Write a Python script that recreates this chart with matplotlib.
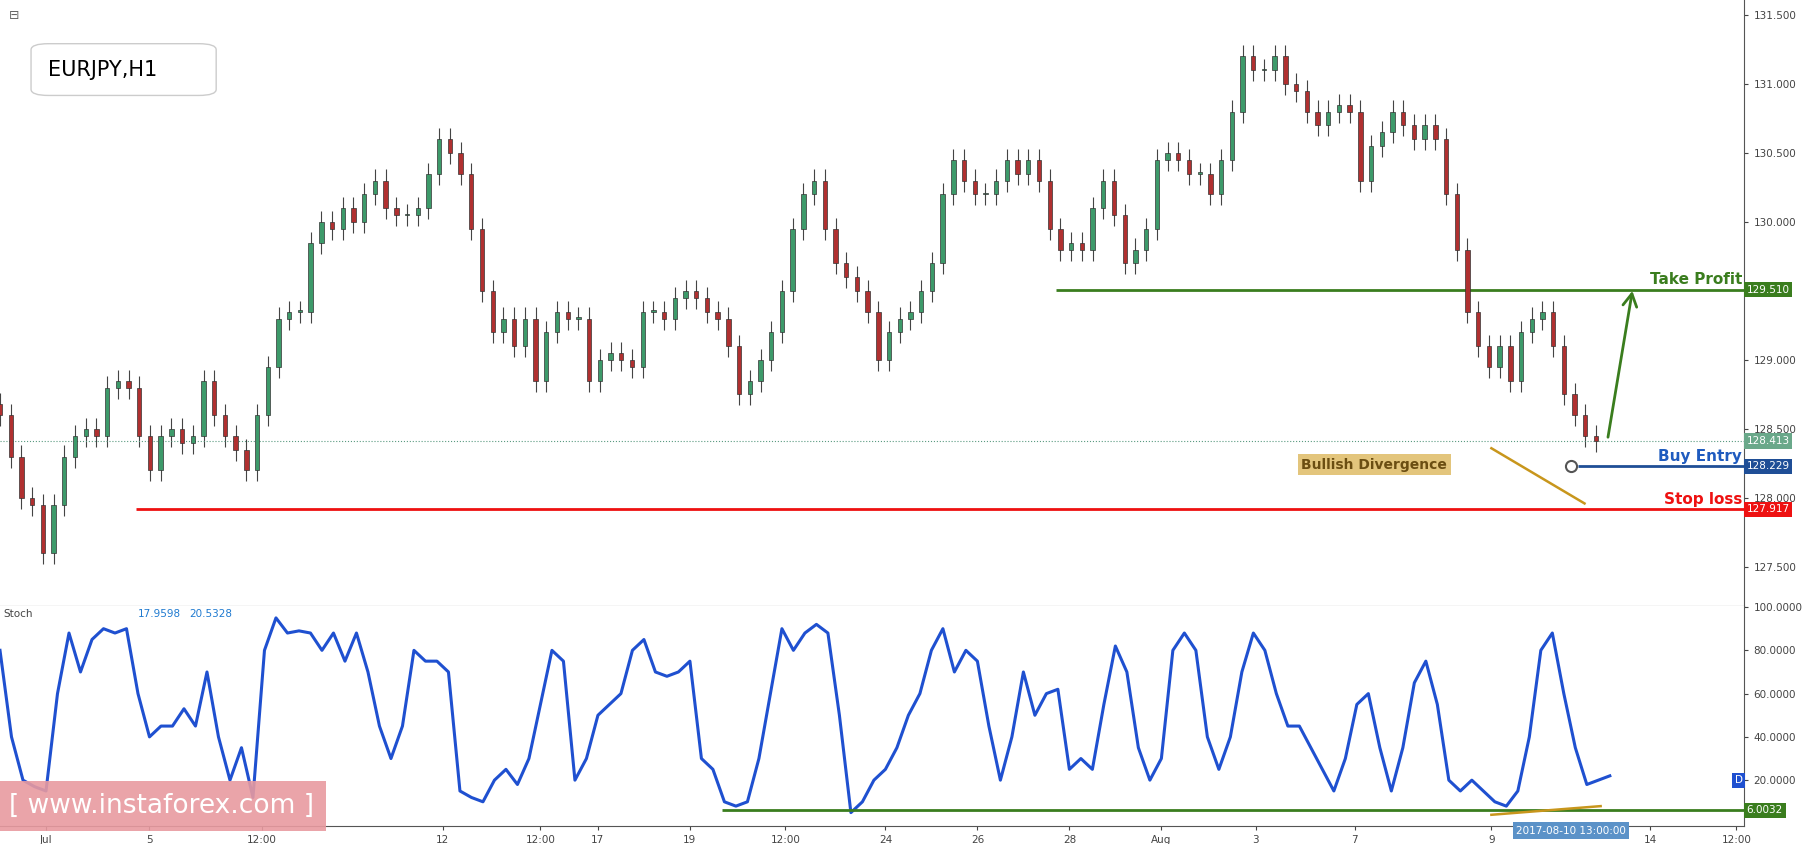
import numpy as np
import matplotlib.pyplot as plt
from matplotlib.patches import Rectangle, FancyBboxPatch

# hourly closes (roughly every 4th bar)
closes = [128.6, 128.3, 128.0, 127.95, 127.6, 127.95, 128.3, 128.45, 128.5, 128.45, 128.8, 128.85,
          128.8, 128.45, 128.2, 128.45, 128.5, 128.4, 128.45, 128.85, 128.6, 128.45, 128.35, 128.2,
          128.6, 128.95, 129.3, 129.35, 129.35, 129.85, 130.0, 129.95, 130.1, 130.0, 130.2, 130.3,
          130.1, 130.05, 130.05, 130.1, 130.35, 130.6, 130.5, 130.35, 129.95, 129.5, 129.2, 129.3,
          129.1, 129.3, 128.85, 129.2, 129.35, 129.3, 129.3, 128.85, 129.0, 129.05, 129.0, 128.95,
          129.35, 129.35, 129.3, 129.45, 129.5, 129.45, 129.35, 129.3, 129.1, 128.75, 128.85, 129.0,
          129.2, 129.5, 129.95, 130.2, 130.3, 129.95, 129.7, 129.6, 129.5, 129.35, 129.0, 129.2,
          129.3, 129.35, 129.5, 129.7, 130.2, 130.45, 130.3, 130.2, 130.2, 130.3, 130.45, 130.35,
          130.45, 130.3, 129.95, 129.8, 129.85, 129.8, 130.1, 130.3, 130.05, 129.7, 129.8, 129.95,
          130.45, 130.5, 130.45, 130.35, 130.35, 130.2, 130.45, 130.8, 131.2, 131.1, 131.1, 131.2,
          131.0, 130.95, 130.8, 130.7, 130.8, 130.85, 130.8, 130.3, 130.55, 130.65, 130.8, 130.7,
          130.6, 130.7, 130.6, 130.2, 129.8, 129.35, 129.1, 128.95, 129.1, 128.85, 129.2, 129.3,
          129.35, 129.1, 128.75, 128.6, 128.45, 128.41]

stoch = [80, 40, 20, 17, 15, 60, 88, 70, 85, 90, 88, 90, 60, 40, 45, 45, 53, 45, 70, 40, 20, 35,
         12, 80, 95, 88, 89, 88, 80, 88, 75, 88, 70, 45, 30, 45, 80, 75, 75, 70, 15, 12, 10, 20,
         25, 18, 30, 55, 80, 75, 20, 30, 50, 55, 60, 80, 85, 70, 68, 70, 75, 30, 25, 10, 8, 10,
         30, 60, 90, 80, 88, 92, 88, 50, 5, 10, 20, 25, 35, 50, 60, 80, 90, 70, 80, 75, 45, 20,
         40, 70, 50, 60, 62, 25, 30, 25, 55, 82, 70, 35, 20, 30, 80, 88, 80, 40, 25, 40, 70, 88,
         80, 60, 45, 45, 35, 25, 15, 30, 55, 60, 35, 15, 35, 65, 75, 55, 20, 15, 20, 15, 10, 8,
         15, 40, 80, 88, 60, 35, 18, 20, 22]

price_ticks = [127.5, 128.0, 128.5, 129.0, 130.0, 130.5, 131.0, 131.5]
stoch_ticks = [20, 40, 60, 80, 100]
x_tick_pos = [40, 130, 228, 385, 470, 520, 600, 683, 770, 850, 930, 1010, 1092, 1178, 1297, 1435, 1510]
x_tick_lab = ['Jul', '5', '12:00', '12', '12:00', '17', '19', '12:00', '24', '26', '28', 'Aug',
              '3', '7', '9', '14', '12:00']

last_price, entry, take_profit, stop_loss, stoch_line = 128.413, 128.229, 129.510, 127.917, 6.0032

W, H = 1568, 734
fig = plt.figure(figsize=(18.03, 8.44), dpi=100)
fig.patch.set_facecolor('white')
ax = fig.add_axes([0, 1 - 527 / H, 1517 / W, 527 / H])
ax2 = fig.add_axes([0, 1 - 718 / H, 1517 / W, 191 / H])
for a in (ax, ax2):
    a.set_xlim(0, 1517)
    a.yaxis.tick_right()
    for s in ('top', 'left'):
        a.spines[s].set_visible(False)
    a.spines['right'].set_color('#555')
    a.spines['bottom'].set_color('#555')
    a.tick_params(labelsize=7.5, colors='#444', length=3)
ax.set_ylim(127.217, 131.608)
ax2.set_ylim(-1, 100.5)

# candles
xs = np.linspace(0, 1388, len(closes))
opens = [closes[0] + 0.08] + closes[:-1]
for x, o, c in zip(xs, opens, closes):
    up = c >= o
    col = '#3d9a6a' if up else '#b03030'
    ax.vlines(x, min(o, c) - 0.08, max(o, c) + 0.08, color='#444', lw=0.8, zorder=2)
    ax.add_patch(Rectangle((x - 1.9, min(o, c)), 3.8, max(abs(c - o), 0.01), facecolor=col,
                           edgecolor='#333', lw=0.5, zorder=3))
ax.set_yticks(price_ticks)
ax.set_yticklabels([f'{v:.3f}' for v in price_ticks])
ax.set_xticks([])

ax.axhline(last_price, color='#5a9a80', lw=0.8, ls=':')
ax.hlines(take_profit, 918, 1517, color='#3a7d1e', lw=2)
ax.hlines(entry, 1372, 1517, color='#1f4e96', lw=2)
ax.hlines(stop_loss, 118, 1517, color='#ee1111', lw=2)
ax.plot([1366], [entry], 'o', ms=8, mfc='white', mec='#555', mew=1.5)
ax.text(1515, take_profit + 0.015, 'Take Profit', color='#3a7d1e', fontsize=11, fontweight='bold', ha='right', va='bottom')
ax.text(1515, entry + 0.015, 'Buy Entry', color='#1f5bbf', fontsize=11, fontweight='bold', ha='right', va='bottom')
ax.text(1515, stop_loss + 0.015, 'Stop loss', color='#ee1111', fontsize=11, fontweight='bold', ha='right', va='bottom')
ax.text(1195, 128.24, 'Bullish Divergence', color='#6b4e12', fontsize=10, fontweight='bold', ha='center', va='center',
        bbox=dict(boxstyle='square,pad=0.25', fc='#e3c57c', ec='none'))
ax.plot([1297, 1378], [128.36, 127.96], color='#c8961c', lw=1.8)
ax.annotate('', xy=(1420, 129.52), xytext=(1398, 128.42),
            arrowprops=dict(arrowstyle='->,head_width=0.5,head_length=0.9', color='#3a7d1e', lw=2))

for y, txt, col in [(last_price, '128.413', '#6aa88a'), (entry, '128.229', '#1f4e96'),
                    (stop_loss, '127.917', '#ee1111'), (take_profit, '129.510', '#3a7d1e')]:
    ax.text(1519, y, txt, color='white', fontsize=7.5, va='center', ha='left',
            bbox=dict(boxstyle='square,pad=0.25', fc=col, ec='none'), clip_on=False)

ax.text(0.005, 0.985, '⊟', transform=ax.transAxes, fontsize=9, color='#666', va='top')
box = FancyBboxPatch((27 / 1517, 1 - 83 / 527), 161 / 1517, 45 / 527, transform=ax.transAxes,
                     boxstyle='round,pad=0,rounding_size=0.01', fc='white', ec='#ccc', lw=1, zorder=5)
ax.add_patch(box)
ax.text(42 / 1517, 1 - 61 / 527, 'EURJPY,H1', transform=ax.transAxes, fontsize=15, va='center', zorder=6)

# stochastic
sx = np.arange(len(stoch)) * 10
ax2.plot(sx, stoch, color='#1f50d0', lw=2.2, solid_joinstyle='round')
ax2.hlines(stoch_line, 628, 1517, color='#3a7d1e', lw=2)
ax2.plot([1297, 1392], [4, 8], color='#c8961c', lw=1.8)
ax2.set_yticks(stoch_ticks)
ax2.set_yticklabels([f'{v:.4f}' for v in stoch_ticks])
ax2.set_xticks(x_tick_pos)
ax2.set_xticklabels(x_tick_lab)
ax2.text(1519, stoch_line, '6.0032', color='white', fontsize=7.5, va='center', ha='left',
         bbox=dict(boxstyle='square,pad=0.25', fc='#3a7d1e', ec='none'), clip_on=False)
ax2.text(1512, 20, 'D', color='white', fontsize=7.5, va='center', ha='center',
         bbox=dict(boxstyle='square,pad=0.25', fc='#1f50d0', ec='none'))
ax2.text(3, 97, 'Stoch', fontsize=7.5, color='#444', va='center')
ax2.text(120, 97, '17.9598', fontsize=7.5, color='#1f7ad0', va='center')
ax2.text(165, 97, '20.5328', fontsize=7.5, color='#1f7ad0', va='center')
ax2.text(1366, -1, '2017-08-10 13:00:00', transform=ax2.transData, color='white', fontsize=7.5,
         va='top', ha='center', bbox=dict(boxstyle='square,pad=0.3', fc='#5b92c8', ec='none'), clip_on=False)

fig.text(8 / W, 1 - 701 / H, '[ www.instaforex.com ]', fontsize=19, color='white', va='center',
         bbox=dict(boxstyle='square,pad=0.45', fc='#e89aa0', ec='none', alpha=0.9))

fig.savefig('out.png', dpi=100)
